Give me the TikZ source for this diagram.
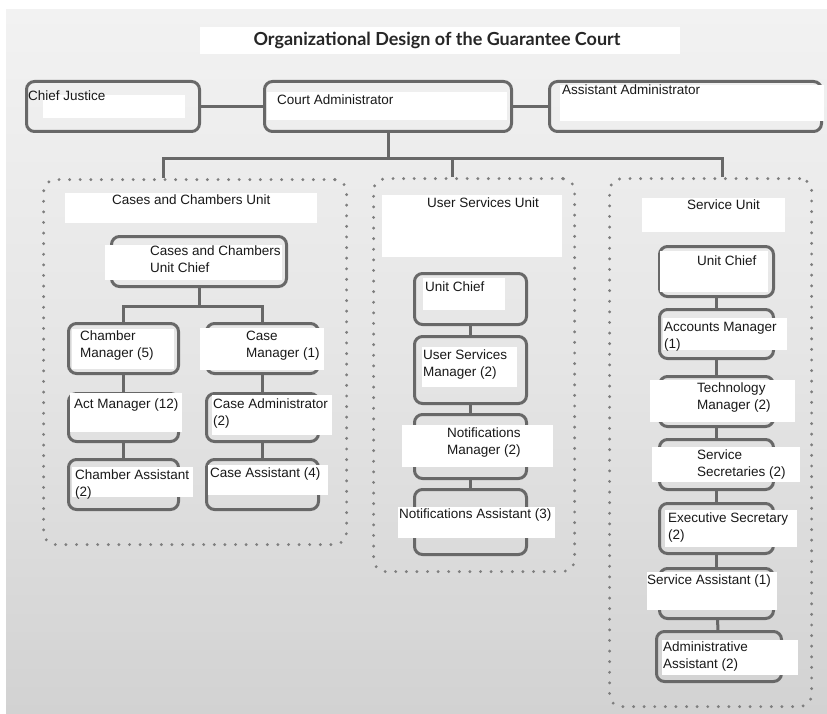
\documentclass[tikz,border=0pt]{standalone}
\usepackage{fontspec}
\setmainfont{Liberation Sans}
\newfontfamily\titlefont{Lato}
\usetikzlibrary{positioning}
\definecolor{boxline}{HTML}{686868}
\definecolor{dotgrey}{HTML}{7E7E7E}
\definecolor{bgtop}{HTML}{F2F2F2}
\definecolor{bgbot}{HTML}{D2D2D2}
\begin{document}
\begin{tikzpicture}[x=1pt,y=-1pt] % pixel grid, y downwards
    \tikzstyle{post}=[draw=boxline, line width=3pt, rounded corners=8pt, inner sep=0pt, anchor=north west]
    \tikzstyle{unit}=[draw=dotgrey, line width=3.2pt, line cap=round, dash pattern=on 0pt off 10.6pt, rounded corners=12pt, inner sep=0pt, anchor=north west]
    \tikzstyle{link}=[draw=boxline, line width=3pt]
    \tikzstyle{patch}=[fill=white]
    \tikzstyle{lbl}=[inner sep=0pt, anchor=north west, align=left, text=black!90, font=\fontsize{13.5}{17}\selectfont]
    \useasboundingbox (0,0) rectangle (827,714);
    \fill [white] (0,0) rectangle (827,714);
    \shade [top color=bgtop, bottom color=bgbot, middle color=bgtop!60!bgbot] (6,10) rectangle (827,714);
    \fill [patch] (200,27) rectangle (680,54);
    \node [font=\titlefont\bfseries\fontsize{18}{22}\selectfont, text=black!85] (title) at (437,40) {Organizational Design of the Guarantee Court};
    % unit frames
    \node [unit, minimum width=303, minimum height=365] (ccuF) at (42,178) {};
    \node [unit, minimum width=201, minimum height=393] (usuF) at (372,177) {};
    \node [unit, minimum width=202, minimum height=528] (suF) at (608,177) {};
    % top row
    \node [post, minimum width=173, minimum height=50] (cj) at (25,80) {};
    \node [post, minimum width=247, minimum height=50] (ca) at (263,80) {};
    \node [post, minimum width=272, minimum height=50] (aa) at (548,80) {};
    \draw [link] (cj) -- (ca);
    \draw [link] (ca) -- (aa);
    \coordinate (bus) at (387,159);
    \coordinate (dropA) at (163,178);
    \coordinate (dropB) at (452,177);
    \coordinate (dropC) at (722,177);
    \draw [link] (ca.south) -- (ca.south |- bus);
    \draw [link] (dropA) |- (bus) -| (dropC);
    \draw [link] (dropB) -- (dropB |- bus);
    \fill [patch] (43,95) rectangle (185,118);
    \fill [patch] (267,92) rectangle (507,120);
    \fill [patch] (560,85) rectangle (824,121);
    \node [lbl] (cjT) at (28,91) {Chief Justice};
    \node [lbl] (caT) at (277,95) {Court Administrator};
    \node [lbl] (aaT) at (562,85) {Assistant Administrator};
    % cases and chambers unit
    \node [post, minimum width=175, minimum height=50] (ccc) at (110,235) {};
    \node [post, minimum width=110, minimum height=50] (chm) at (67,322) {};
    \node [post, minimum width=112, minimum height=50] (cam) at (205,322) {};
    \node [post, minimum width=110, minimum height=48] (act) at (67,392) {};
    \node [post, minimum width=112, minimum height=48] (cad) at (205,392) {};
    \node [post, minimum width=110, minimum height=50] (cha) at (67,458) {};
    \node [post, minimum width=112, minimum height=50] (cas) at (205,458) {};
    \draw [link] (ccc.south) -- ++(0,18) -| (chm.north);
    \draw [link] (ccc.south) -- ++(0,18) -| (cam.north);
    \draw [link] (chm) -- (act);
    \draw [link] (act) -- (cha);
    \draw [link] (cam) -- (cad);
    \draw [link] (cad) -- (cas);
    \fill [patch] (65,193) rectangle (317,223);
    \fill [patch] (105,245) rectangle (282,280);
    \fill [patch] (72,329) rectangle (174,369);
    \fill [patch] (200,328) rectangle (324,370);
    \fill [patch] (70,393) rectangle (182,432);
    \fill [patch] (212,395) rectangle (332,435);
    \fill [patch] (72,467) rectangle (193,497);
    \fill [patch] (208,465) rectangle (328,495);
    \node [lbl] (ccuT) at (112,195) {Cases and Chambers Unit};
    \node [lbl] (cccT) at (150,246) {Cases and Chambers\\Unit Chief};
    \node [lbl] (chmT) at (80,331) {Chamber\\Manager (5)};
    \node [lbl] (camT) at (246,331) {Case\\Manager (1)};
    \node [lbl] (actT) at (74,399) {Act Manager (12)};
    \node [lbl] (cadT) at (213,399) {Case Administrator\\(2)};
    \node [lbl] (chaT) at (75,470) {Chamber Assistant\\(2)};
    \node [lbl] (casT) at (210,468) {Case Assistant (4)};
    % user services unit
    \node [post, minimum width=112, minimum height=51] (usc) at (413,272) {};
    \node [post, minimum width=112, minimum height=67] (usm) at (413,335) {};
    \node [post, minimum width=112, minimum height=64] (nom) at (413,413) {};
    \node [post, minimum width=112, minimum height=65] (noa) at (413,488) {};
    \draw [link] (usc) -- (usm);
    \draw [link] (usm) -- (nom);
    \draw [link] (nom) -- (noa);
    \fill [patch] (382,195) rectangle (562,257);
    \fill [patch] (423,278) rectangle (505,310);
    \fill [patch] (422,347) rectangle (517,387);
    \fill [patch] (402,425) rectangle (553,467);
    \fill [patch] (398,507) rectangle (555,538);
    \node [lbl] (usuT) at (427,198) {User Services Unit};
    \node [lbl] (uscT) at (425,282) {Unit Chief};
    \node [lbl] (usmT) at (423,350) {User Services\\Manager (2)};
    \node [lbl] (nomT) at (447,428) {Notifications\\Manager (2)};
    \node [lbl] (noaT) at (399,509) {Notifications Assistant (3)};
    % service unit
    \node [post, minimum width=114, minimum height=50] (suc) at (658,245) {};
    \node [post, minimum width=114, minimum height=49] (acm) at (658,308) {};
    \node [post, minimum width=114, minimum height=50] (tem) at (658,375) {};
    \node [post, minimum width=114, minimum height=50] (sse) at (658,438) {};
    \node [post, minimum width=114, minimum height=50] (exs) at (658,502) {};
    \node [post, minimum width=114, minimum height=50] (sea) at (658,567) {};
    \node [post, minimum width=125, minimum height=50] (ada) at (655,630) {};
    \draw [link] (suc) -- (acm);
    \draw [link] (acm) -- (tem);
    \draw [link] (tem) -- (sse);
    \draw [link] (sse) -- (exs);
    \draw [link] (exs) -- (sea);
    \draw [link] (sea) -- (ada);
    \fill [patch] (642,198) rectangle (785,232);
    \fill [patch] (660,251) rectangle (768,292);
    \fill [patch] (663,318) rectangle (787,350);
    \fill [patch] (650,380) rectangle (795,422);
    \fill [patch] (652,447) rectangle (800,482);
    \fill [patch] (665,510) rectangle (797,547);
    \fill [patch] (647,572) rectangle (777,610);
    \fill [patch] (662,640) rectangle (798,675);
    \node [lbl] (suT) at (687,200) {Service Unit};
    \node [lbl] (sucT) at (697,256) {Unit Chief};
    \node [lbl] (acmT) at (664,322) {Accounts Manager\\(1)};
    \node [lbl] (temT) at (697,383) {Technology\\Manager (2)};
    \node [lbl] (sseT) at (697,450) {Service\\Secretaries (2)};
    \node [lbl] (exsT) at (668,513) {Executive Secretary\\(2)};
    \node [lbl] (seaT) at (647,575) {Service Assistant (1)};
    \node [lbl] (adaT) at (663,642) {Administrative\\Assistant (2)};
\end{tikzpicture}
\end{document}
